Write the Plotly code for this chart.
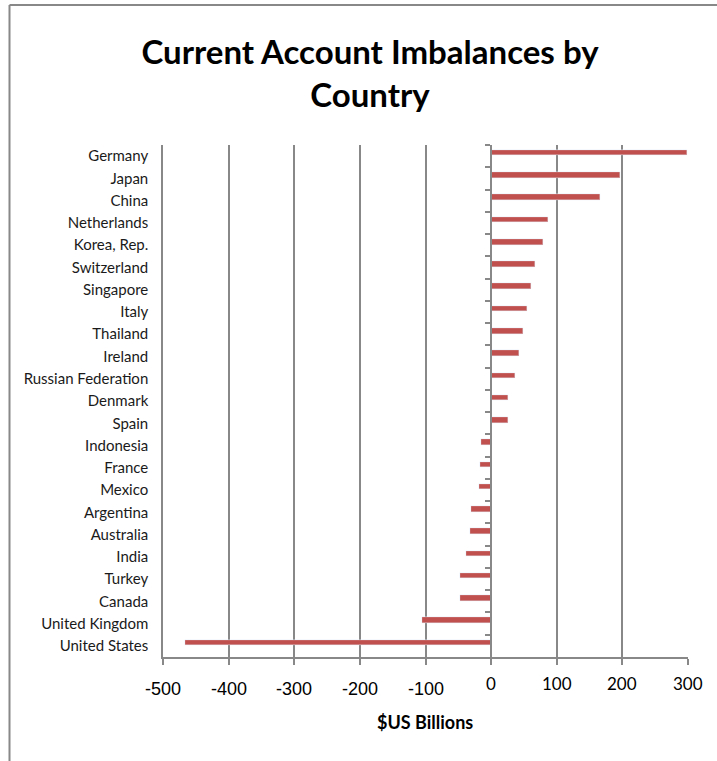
import plotly.graph_objects as go

countries = ["Germany", "Japan", "China", "Netherlands", "Korea, Rep.", "Switzerland",
             "Singapore", "Italy", "Thailand", "Ireland", "Russian Federation", "Denmark",
             "Spain", "Indonesia", "France", "Mexico", "Argentina", "Australia", "India",
             "Turkey", "Canada", "United Kingdom", "United States"]
balances = [298, 197, 166, 86, 79, 67, 61, 55, 49, 43, 36, 26,
            26, -16, -17, -19, -31, -32, -38, -47, -48, -105, -466]

tick_vals = [-500, -400, -300, -200, -100, 0, 100, 200, 300]
tick_text = ["-500", "-400", "-300", "-200", "-100", "0", "100", "200", "300"]

GRAY = "#888888"
BAR = "#C0504D"

fig = go.Figure()
fig.add_trace(go.Bar(
    x=balances, y=countries, orientation="h",
    marker=dict(color=BAR, line=dict(width=0)),
    width=0.25, offset=-0.28,
    hoverinfo="x+y", showlegend=False,
))
# invisible copy to drive the category ticks on the axis through zero
fig.add_trace(go.Bar(
    x=balances, y=countries, orientation="h", yaxis="y2",
    marker=dict(color="rgba(0,0,0,0)"), width=0.25, offset=-0.28,
    hoverinfo="skip", showlegend=False,
))

n = len(countries)
fig.update_layout(
    width=717, height=761,
    margin=dict(l=163, r=29, t=145, b=104),
    paper_bgcolor="white", plot_bgcolor="white",
    bargap=0,
    title=dict(
        text="Current Account Imbalances by<br>Country",
        font=dict(family="Lato", size=33, color="black", weight="bold"),
        x=370 / 717, xanchor="center", xref="container",
        y=1 - 64 / 761, yanchor="top", yref="container",
    ),
    xaxis=dict(
        range=[-500, 300], tickvals=tick_vals, showticklabels=False,
        showgrid=True, gridcolor=GRAY, gridwidth=1.5,
        zeroline=False,
        showline=True, linecolor=GRAY, linewidth=1.5,
        ticks="outside", ticklen=6, tickcolor=GRAY, tickwidth=1.5,
    ),
    yaxis=dict(
        type="category", categoryarray=countries, categoryorder="array",
        range=[n - 0.5, -0.5],
        showgrid=False, zeroline=False, showline=True, linecolor=GRAY, linewidth=1.5,
        ticks="",
        tickfont=dict(family="Lato", size=15, color="#1a1a1a"),
        ticklabelstandoff=10,
    ),
    yaxis2=dict(
        type="category", categoryarray=countries, categoryorder="array",
        range=[n - 0.5, -0.5], overlaying="y", anchor="free", position=500 / 800,
        side="left",
        showgrid=False, zeroline=False, showticklabels=False,
        showline=True, linecolor=GRAY, linewidth=1.5,
        ticks="outside", tickson="boundaries", ticklen=5, tickcolor=GRAY, tickwidth=1.5,
    ),
)

# x tick labels (negative labels larger, as in the original)
for v, t in zip(tick_vals, tick_text):
    if v < 0:
        fig.add_annotation(x=v, y=-32 / 512, xref="x", yref="paper", text=t, showarrow=False,
                           xanchor="center", yanchor="middle",
                           font=dict(family="Liberation Sans", size=18, color="black"))
    else:
        fig.add_annotation(x=v, y=-26 / 512, xref="x", yref="paper", text=t, showarrow=False,
                           xanchor="center", yanchor="middle",
                           font=dict(family="Lato", size=17, color="black"))

fig.add_annotation(x=(425 - 163) / 525, y=-(722 - 657) / 512, xref="paper", yref="paper",
                   text="<b>$US Billions</b>", showarrow=False, xanchor="center", yanchor="middle",
                   font=dict(family="Lato", size=18, color="black"))

# outer frame (top and left edges of the chart area)
px = lambda p: (p - 163) / 525
py = lambda p: (657 - p) / 512
fig.add_shape(type="line", xref="paper", yref="paper", x0=px(9.5), x1=px(720), y0=py(5), y1=py(5),
              line=dict(color=GRAY, width=2))
fig.add_shape(type="line", xref="paper", yref="paper", x0=px(9.5), x1=px(9.5), y0=py(5), y1=py(765),
              line=dict(color=GRAY, width=2))

fig.write_html("out.html")
